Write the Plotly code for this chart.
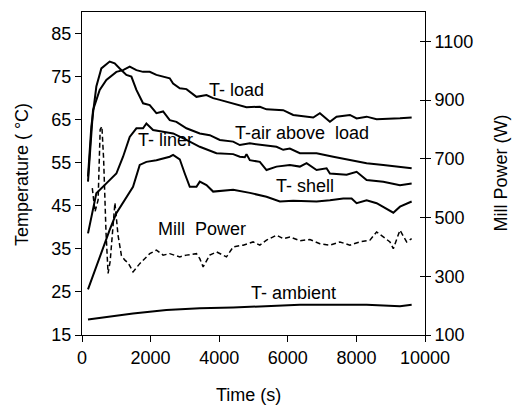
import plotly.graph_objects as go

# ---- data ----
t_load = [175, 321, 516, 710, 1002, 1197, 1391, 1586, 1780, 1975, 2169, 2364, 2558, 2656, 2850,
          3045, 3337, 3629, 3823, 4018, 4407, 4796, 5185, 5379, 5866, 6158, 6741, 6936, 7228,
          7422, 7811, 8006, 8298, 8590, 9271, 9611]
T_load = [50.6, 67.2, 71.9, 74.2, 76.1, 76.5, 77.3, 76.5, 76.1, 76.1, 75.4, 75.0, 74.6, 73.4, 72.3,
          72.1, 70.3, 70.7, 70.0, 69.6, 68.8, 67.9, 68.0, 67.4, 67.2, 66.1, 65.5, 66.5, 64.5,
          65.7, 66.1, 65.3, 65.7, 65.1, 65.3, 65.5]

t_air = [175, 272, 418, 564, 807, 953, 1099, 1294, 1440, 1586, 1780, 1975, 2169, 2364, 2558,
         2753, 3045, 3434, 3726, 4018, 4407, 4601, 4893, 5379, 5671, 5866, 6060, 6352, 6839,
         7325, 7811, 8298, 8784, 9271, 9611]
T_air = [51.8, 63.4, 72.7, 76.9, 78.5, 78.1, 76.9, 75.4, 75.0, 71.9, 68.8, 68.4, 66.5, 66.9, 64.9,
         64.5, 63.0, 61.8, 61.4, 60.3, 59.9, 59.1, 59.5, 59.1, 58.7, 58.0, 58.3, 57.2, 57.2,
         56.4, 55.6, 54.9, 54.5, 54.1, 53.7]

t_liner = [175, 418, 710, 1002, 1197, 1391, 1586, 1780, 1877, 2072, 2364, 2656, 3045, 3434, 3920,
           4407, 4601, 4747, 4796, 4893, 5185, 5379, 5671, 6060, 6352, 6547, 6839, 7131, 7228,
           7714, 8006, 8298, 8784, 9271, 9611]
T_liner = [38.6, 47.9, 50.2, 52.5, 56.4, 61.0, 63.0, 63.0, 64.1, 62.6, 62.2, 61.8, 60.3, 58.7, 57.2,
           57.0, 56.4, 56.3, 57.0, 55.6, 55.2, 53.3, 54.1, 54.5, 54.1, 54.9, 53.3, 53.7, 52.5,
           52.2, 52.9, 51.0, 50.6, 49.8, 50.2]

t_shell = [175, 516, 807, 1002, 1294, 1488, 1683, 1877, 2169, 2364, 2558, 2656, 2850, 2996, 3142,
           3337, 3434, 3629, 3823, 4407, 4893, 5379, 5769, 6158, 6839, 7228, 7617, 7860, 8006,
           8298, 8590, 9076, 9271, 9611]
T_shell = [25.6, 33.2, 39.4, 43.3, 47.1, 49.4, 54.5, 55.2, 55.6, 56.0, 56.4, 56.8, 55.8, 52.5, 49.4,
           49.4, 50.6, 49.8, 48.3, 48.7, 48.0, 47.1, 46.0, 46.2, 46.0, 46.3, 46.7, 46.7, 45.6,
           46.3, 45.6, 43.4, 44.8, 46.0]

t_amb = [175, 1488, 2461, 3434, 4407, 5379, 6352, 8298, 9271, 9611]
T_amb = [18.6, 20.0, 20.8, 21.2, 21.4, 21.7, 22.0, 22.0, 21.7, 22.0]

t_power = [300, 380, 470, 530, 580, 630, 700, 760, 820, 900, 960, 1050, 1150, 1250, 1350, 1488,
           1683, 1975, 2169, 2364, 2558, 2850, 3045, 3337, 3434, 3531, 3726, 3920, 4212, 4407,
           4698, 4990, 5185, 5379, 5671, 5866, 6060, 6352, 6644, 6936, 7228, 7520, 7811, 8103,
           8395, 8589, 8784, 8979, 9076, 9270, 9465, 9611]
P_power = [600, 520, 560, 800, 810, 700, 450, 310, 350, 480, 550, 440, 370, 355, 345, 315,
           343, 377, 389, 372, 377, 366, 372, 377, 360, 332, 372, 383, 366, 400,
           406, 417, 406, 423, 440, 428, 434, 421, 425, 411, 406, 417, 406, 417,
           423, 451, 434, 417, 394, 457, 417, 428]

x_ticks = [0, 2000, 4000, 6000, 8000, 10000]
x_ticktext = ["0", "2000", "4000", "6000", "8000", "10000"]
y_ticks = [15, 25, 35, 45, 55, 65, 75, 85]
y2_ticks = [100, 300, 500, 700, 900, 1100]

labels = ["T- load", "T-air above\u00a0\u00a0load", "T- liner", "T- shell", "Mill\u00a0\u00a0Power", "T- ambient"]
label_x = [4514, 6402, 2437, 6497, 3508, 6180]
label_y = [71.9, 61.8, 60.3, 49.7, 39.5, 24.7]

FONT = "Liberation Sans, Arial, sans-serif"

fig = go.Figure()
line_style = dict(color="black", width=2)
for tx, ty in [(t_load, T_load), (t_air, T_air), (t_liner, T_liner), (t_shell, T_shell), (t_amb, T_amb)]:
    fig.add_trace(go.Scatter(x=tx, y=ty, mode="lines", line=line_style, showlegend=False, yaxis="y"))
fig.add_trace(go.Scatter(x=t_power, y=P_power, mode="lines",
                         line=dict(color="black", width=1.5, dash="5px,3px"),
                         showlegend=False, yaxis="y2"))
# invisible trace to activate the inner-tick axis
fig.add_trace(go.Scatter(x=[None], y=[None], yaxis="y3", showlegend=False))

for txt, lx, ly in zip(labels, label_x, label_y):
    fig.add_annotation(x=lx, y=ly, xref="x", yref="y", text=txt, showarrow=False,
                       font=dict(family=FONT, size=18, color="black"),
                       xanchor="center", yanchor="middle")

# axis titles
title_font = dict(family=FONT, size=18, color="black")
fig.add_annotation(x=-0.175, y=0.498, xref="paper", yref="paper", text="Temperature ( °C)",
                   textangle=-90, showarrow=False, font=title_font,
                   xanchor="center", yanchor="middle")
fig.add_annotation(x=1.219, y=0.50, xref="paper", yref="paper", text="Mill Power (W)",
                   textangle=-90, showarrow=False, font=title_font,
                   xanchor="center", yanchor="middle")
fig.add_annotation(x=0.485, y=-0.186, xref="paper", yref="paper", text="Time (s)",
                   showarrow=False, font=title_font, xanchor="center", yanchor="middle")

axis_common = dict(showgrid=False, zeroline=False, linecolor="black", linewidth=1,
                   tickcolor="black", tickwidth=1,
                   tickfont=dict(family=FONT, size=18, color="black"))

fig.update_layout(
    width=513, height=408,
    margin=dict(l=82, r=88, t=12, b=73),
    paper_bgcolor="white", plot_bgcolor="white",
    xaxis=dict(range=[0, 10000], tickvals=x_ticks, ticktext=x_ticktext, ticks="outside", ticklen=6,
               showline=True, mirror=True, automargin=False, **axis_common),
    yaxis=dict(range=[15, 90], tickvals=y_ticks, ticks="outside", ticklen=6,
               showline=True, automargin=False, **axis_common),
    yaxis2=dict(range=[100, 1200], tickvals=y2_ticks, ticks="outside", ticklen=5,
                showline=True, overlaying="y", side="right", automargin=False, **axis_common),
    yaxis3=dict(range=[100, 1200], tickvals=y2_ticks, ticks="inside", ticklen=5,
                showline=False, showticklabels=False, overlaying="y", side="right",
                automargin=False, showgrid=False, zeroline=False, tickcolor="black"),
)

fig.write_html("out.html")
